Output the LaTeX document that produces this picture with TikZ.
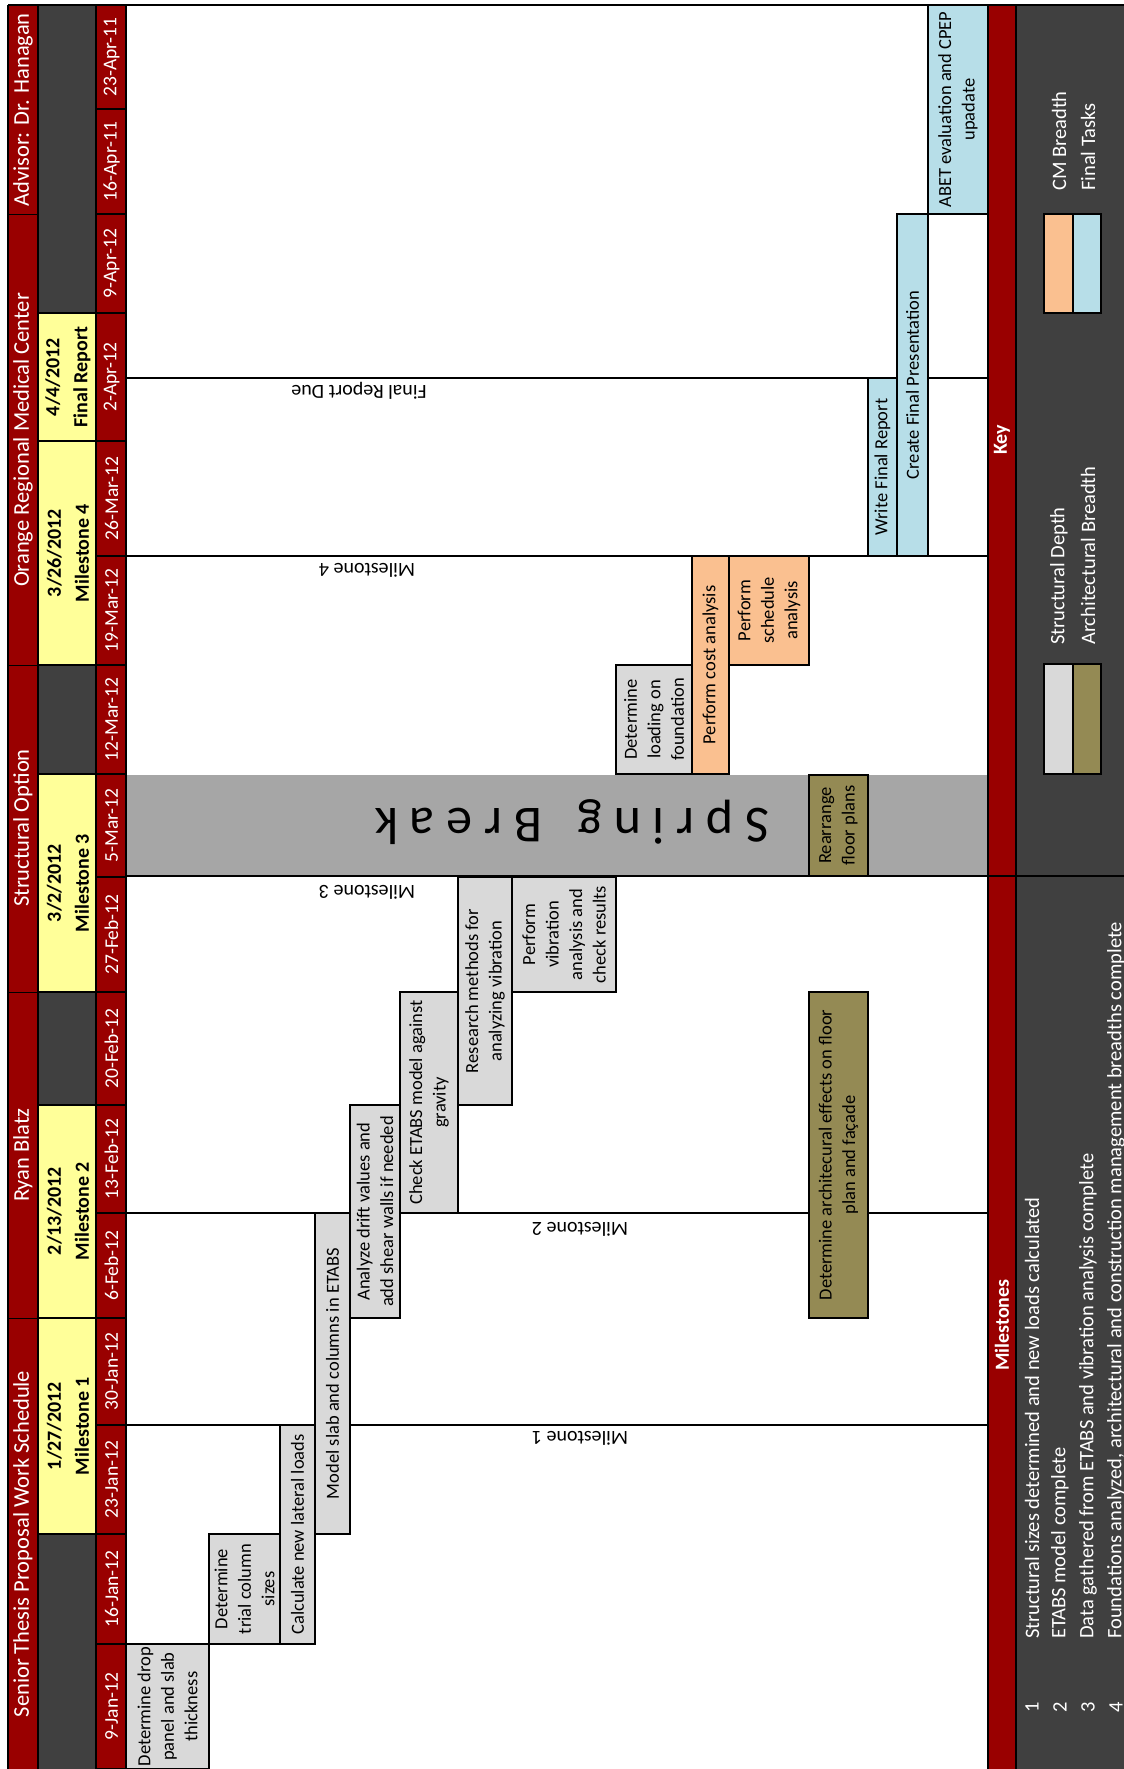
\documentclass[tikz,border=0pt]{standalone}
\usepackage{fontspec}
\setmainfont{Carlito}
\definecolor{dred}{HTML}{990000}
\definecolor{dgray}{HTML}{404040}
\definecolor{yel}{HTML}{FFFF99}
\definecolor{sgray}{HTML}{A6A6A6}
\definecolor{tgray}{HTML}{D9D9D9}
\definecolor{olv}{HTML}{948A54}
\definecolor{orn}{HTML}{FAC090}
\definecolor{lblu}{HTML}{B7DEE8}
\newcommand{\taskbox}[7]{%
  \filldraw[fill=#6,draw=black,line width=1.6pt] (#2,#3) rectangle (#4,#5);
  \node[ttext] (#1) at ({(#2+#4)/2},{(#3+#5)/2}) {#7};}
\begin{document}
\begin{tikzpicture}[x=1pt,y=-1pt,
  frame/.style={line width=2.6pt},
  mline/.style={line width=2.2pt},
  thinl/.style={line width=0.8pt},
  ttext/.style={rotate=90,align=center,inner sep=0pt,font=\fontsize{18.5}{23.5}\selectfont},
  datetxt/.style={rotate=90,inner sep=0pt,text=white,font=\fontsize{19.5}{23}\selectfont},
  titletxt/.style={rotate=90,inner sep=0pt,text=white,font=\fontsize{22.5}{27}\selectfont},
  ytext/.style={rotate=90,align=center,inner sep=0pt,font=\bfseries\fontsize{20}{28}\selectfont},
  mslabel/.style={rotate=180,inner sep=0pt,font=\fontsize{20}{24}\selectfont},
  keytxt/.style={rotate=90,inner sep=0pt,text=white,font=\bfseries\fontsize{20}{24}\selectfont},
  legtxt/.style={rotate=90,anchor=west,inner sep=0pt,text=white,font=\fontsize{20.5}{24}\selectfont}]
\useasboundingbox (0,0) rectangle (1124,1769);
\fill[white] (0,0) rectangle (1124,1769);
% left columns backgrounds
\fill[dred] (8,5) rectangle (38,1769);
\fill[dred] (96,5) rectangle (126,1769);
\fill[dgray] (38,5) rectangle (96,1769);
\fill[yel] (38,1318) rectangle (96,1534);
\fill[yel] (38,1105) rectangle (96,1318);
\fill[yel] (38,774) rectangle (96,992);
\fill[yel] (38,441) rectangle (96,665);
\fill[yel] (38,313) rectangle (96,441);
% right columns backgrounds
\fill[dred] (988,5) rectangle (1016,1769);
\fill[dgray] (1016,5) rectangle (1124,1769);
% spring break band
\fill[sgray] (126,775) rectangle (988,876);
% title column separators
\foreach \yy in {214,665,992,1318} { \draw[thinl] (8,\yy) -- (38,\yy); }
% yellow column separators
\foreach \yy in {313,441,665,774,992,1105,1318,1534} { \draw[frame] (38,\yy) -- (96,\yy); }
% date column
\foreach \a/\b/\t in {5/109/23-Apr-11,109/214/16-Apr-11,214/313/9-Apr-12,313/441/2-Apr-12,441/556/26-Mar-12,556/665/19-Mar-12,665/774/12-Mar-12,774/877/5-Mar-12,877/992/27-Feb-12,992/1105/20-Feb-12,1105/1213/13-Feb-12,1213/1318/6-Feb-12,1318/1425/30-Jan-12,1425/1534/23-Jan-12,1534/1644/16-Jan-12,1644/1769/9-Jan-12} {
  \draw[frame] (96,\b) -- (126,\b);
  \node[datetxt] (d\a) at (111.5,{(\a+\b)/2}) {\t};
}
% vertical frame lines
\draw[frame] (8,5) -- (8,1769);
\draw[frame] (38,5) -- (38,1769);
\draw[frame] (96,5) -- (96,1769);
\draw[frame] (126,5) -- (126,1769);
\draw[frame] (988,5) -- (988,1769);
\draw[frame] (1016,5) -- (1016,1769);
\draw[frame] (8,5) -- (1124,5);
% milestone lines
\draw[mline] (126,378) -- (988,378);
\draw[mline] (126,556) -- (988,556);
\draw[mline] (126,876) -- (1124,876);
\draw[mline] (126,1213) -- (988,1213);
\draw[mline] (126,1425) -- (988,1425);
% milestone labels
\node[mslabel] (lfr) at (359,391) {Final Report Due};
\node[mslabel] (lm4) at (367,570) {Milestone 4};
\node[mslabel] (lm3) at (367,892) {Milestone 3};
\node[mslabel] (lm2) at (580,1229) {Milestone 2};
\node[mslabel] (lm1) at (580,1438) {Milestone 1};
% spring break text
\node[rotate=180,inner sep=0pt,font=\fontsize{52}{58}\selectfont] (spr) at (572,822) {S\ p\ r\ i\ n\ g\ \ \ B\ r\ e\ a\ k};
% tasks
\taskbox{t1}{126}{1644}{209}{1769}{tgray}{Determine drop\\panel and slab\\thickness}
\taskbox{t2}{209}{1534}{280}{1644}{tgray}{Determine\\trial column\\sizes}
\taskbox{t3}{280}{1425}{315}{1644}{tgray}{Calculate new lateral loads}
\taskbox{t4}{315}{1213}{350}{1534}{tgray}{Model slab and columns in ETABS}
\taskbox{t5}{350}{1105}{400}{1318}{tgray}{Analyze drift values and\\add shear walls if needed}
\taskbox{t6}{400}{992}{458}{1213}{tgray}{Check ETABS model against\\gravity}
\taskbox{t7}{458}{877}{512}{1105}{tgray}{Research methods for\\analyzing vibration}
\taskbox{t8}{512}{877}{616}{992}{tgray}{Perform\\vibration\\analysis and\\check results}
\taskbox{t9}{616}{665}{692}{774}{tgray}{Determine\\loading on\\foundation}
\taskbox{t10}{692}{556}{729}{774}{orn}{Perform cost analysis}
\taskbox{t11}{729}{556}{809}{665}{orn}{Perform\\schedule\\analysis}
\taskbox{t12}{809}{992}{868}{1318}{olv}{Determine architecural effects on floor\\plan and façade}
\taskbox{t13}{809}{775}{868}{876}{olv}{Rearrange\\floor plans}
\taskbox{t14}{868}{378}{897}{556}{lblu}{Write Final Report}
\taskbox{t15}{897}{214}{928}{556}{lblu}{Create Final Presentation}
\taskbox{t16}{928}{5}{988}{214}{lblu}{ABET evaluation and CPEP\\upadate}
% title texts
\node[titletxt] (ti1) at (23,110) {Advisor: Dr. Hanagan};
\node[titletxt] (ti2) at (23,440) {Orange Regional Medical Center};
\node[titletxt] (ti3) at (23,828) {Structural Option};
\node[titletxt] (ti4) at (23,1155) {Ryan Blatz};
\node[titletxt] (ti5) at (23,1544) {Senior Thesis Proposal Work Schedule};
% yellow texts
\node[ytext] (y1) at (68,1426) {1/27/2012\\Milestone 1};
\node[ytext] (y2) at (68,1211) {2/13/2012\\Milestone 2};
\node[ytext] (y3) at (68,883) {3/2/2012\\Milestone 3};
\node[ytext] (y4) at (68,553) {3/26/2012\\Milestone 4};
\node[ytext] (y5) at (68,377) {4/4/2012\\Final Report};
% key column
\node[keytxt] (key) at (1002,440) {Key};
\node[keytxt] (mst) at (1002,1325) {Milestones};
% legend swatches
\filldraw[fill=tgray,draw=black,line width=1.6pt] (1044,664) rectangle (1073,774);
\filldraw[fill=olv,draw=black,line width=1.6pt] (1073,664) rectangle (1101,774);
\filldraw[fill=orn,draw=black,line width=1.6pt] (1044,214) rectangle (1073,313);
\filldraw[fill=lblu,draw=black,line width=1.6pt] (1073,214) rectangle (1101,313);
\node[legtxt] (lg1) at (1059,645) {Structural Depth};
\node[legtxt] (lg2) at (1088,645) {Architectural Breadth};
\node[legtxt] (lg3) at (1059,191) {CM Breadth};
\node[legtxt] (lg4) at (1088,191) {Final Tasks};
% milestone list
\node[legtxt,anchor=center] (n1) at (1032,1707) {1};
\node[legtxt,anchor=center] (n2) at (1060,1707) {2};
\node[legtxt,anchor=center] (n3) at (1088,1707) {3};
\node[legtxt,anchor=center] (n4) at (1116,1707) {4};
\node[legtxt] (m1) at (1032,1639) {Structural sizes determined and new loads calculated};
\node[legtxt] (m2) at (1060,1639) {ETABS model complete};
\node[legtxt] (m3) at (1088,1639) {Data gathered from ETABS and vibration analysis complete};
\node[legtxt] (m4) at (1116,1639) {Foundations analyzed, architectural and construction management breadths complete};
\end{tikzpicture}
\end{document}
